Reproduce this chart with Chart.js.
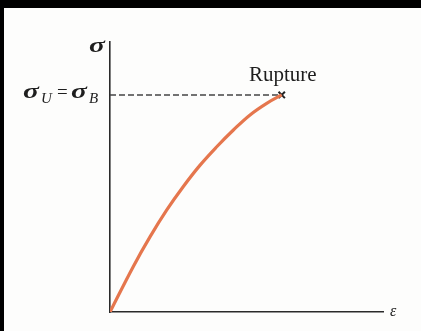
<!DOCTYPE html>
<html>
<head>
<meta charset="utf-8">
<script src="https://cdn.jsdelivr.net/npm/chart.js@4/dist/chart.umd.min.js"></script>
<style>
  html, body { margin: 0; padding: 0; background: #000; }
  #frame { position: absolute; left: 4px; top: 8px; width: 417px; height: 323px; background: #fdfdfc; }
  canvas { display: block; }
</style>
</head>
<body>
<div id="frame"><canvas id="stressChart" width="417" height="323"></canvas></div>
<script>
// stress-strain curve (arbitrary units, axes 0..10)
var strain = [0, 0.85, 1.47, 2.08, 2.68, 3.30, 3.91, 4.52, 5.13, 5.74, 6.29];
var stress = [0, 1.68, 2.79, 3.78, 4.64, 5.44, 6.12, 6.74, 7.30, 7.73, 8.04];
var ruptureStrain = 6.29;
var ruptureStress = 8.04;
var axisMax = 10;

var curvePoints = strain.map(function (e, i) { return { x: e, y: stress[i] }; });

// wide sigma like the textbook glyph
function drawSigma(ctx, x, y) {
    ctx.save();
    ctx.translate(x, y);
    ctx.scale(1.4, 1);
    ctx.font = 'italic bold 21px "Liberation Serif"';
    ctx.fillText('σ', 0, 0);
    ctx.restore();
}

// text labels drawn next to the axes
var labelPlugin = {
    id: 'labels',
    afterDraw: function (chart) {
        var ctx = chart.ctx;
        var area = chart.chartArea;
        var xs = chart.scales.x;
        var ys = chart.scales.y;
        var rx = xs.getPixelForValue(ruptureStrain);
        var ry = ys.getPixelForValue(ruptureStress);
        var sub = 'italic 15px "Liberation Serif"';
        ctx.save();
        ctx.fillStyle = '#1e1e1e';
        ctx.textBaseline = 'alphabetic';
        ctx.textAlign = 'left';

        // sigma at top of y axis
        drawSigma(ctx, area.left - 21, area.top + 10);

        // sigma_U = sigma_B, pieces placed from the axis
        var base = ry + 3;
        drawSigma(ctx, area.left - 87, base);
        ctx.font = sub;
        ctx.fillText('U', area.left - 69, base + 5);
        ctx.font = '19px "Liberation Serif"';
        ctx.fillText('=', area.left - 53, base);
        drawSigma(ctx, area.left - 39, base);
        ctx.font = sub;
        ctx.fillText('B', area.left - 21, base + 5);

        // Rupture
        ctx.font = '21px "Liberation Serif"';
        ctx.textAlign = 'center';
        ctx.fillText('Rupture', rx + 1, ry - 14);

        // epsilon at end of x axis
        ctx.font = 'italic 16px "Liberation Serif"';
        ctx.textAlign = 'left';
        ctx.textBaseline = 'middle';
        ctx.fillText('ε', area.right + 7, area.bottom);
        ctx.restore();
    }
};

var ctx = document.getElementById('stressChart').getContext('2d');
var chart = new Chart(ctx, {
    type: 'scatter',
    data: {
        datasets: [{
            label: 'curve',
            data: curvePoints,
            showLine: true,
            borderColor: '#e5764d',
            borderWidth: 3.2,
            pointRadius: 0,
            tension: 0.4
        }, {
            label: 'ultimate',
            data: [{ x: 0, y: ruptureStress }, { x: ruptureStrain, y: ruptureStress }],
            showLine: true,
            borderColor: '#444',
            borderWidth: 1.5,
            borderDash: [6, 3],
            pointRadius: 0
        }, {
            label: 'rupture',
            data: [{ x: ruptureStrain, y: ruptureStress }],
            pointStyle: 'crossRot',
            pointRadius: 4.5,
            borderColor: '#222',
            borderWidth: 2
        }]
    },
    options: {
        responsive: false,
        animation: false,
        layout: { padding: { left: 106, top: 34, right: 38, bottom: 19 } },
        plugins: { legend: { display: false }, tooltip: { enabled: false } },
        scales: {
            x: {
                type: 'linear', min: 0, max: axisMax,
                grid: { display: false, drawTicks: false },
                ticks: { display: false },
                border: { display: true, color: '#2a2a2a', width: 1.6 }
            },
            y: {
                type: 'linear', min: 0, max: axisMax,
                grid: { display: false, drawTicks: false },
                ticks: { display: false },
                border: { display: true, color: '#2a2a2a', width: 1.6 }
            }
        }
    },
    plugins: [labelPlugin]
});
</script>
</body>
</html>
